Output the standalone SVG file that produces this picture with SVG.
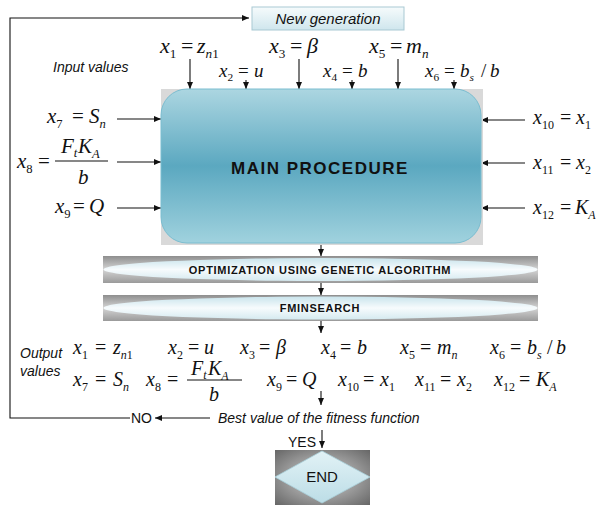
<svg xmlns="http://www.w3.org/2000/svg" width="602" height="505" viewBox="0 0 602 505">
<defs>
<style>
.m{font-family:"Liberation Serif","Times New Roman",serif;font-style:italic;font-size:20px;fill:#111}
.L{font-size:22px}
.S{font-size:19px}
.s{font-size:60%}
.d{font-size:60%;font-style:normal}
.o{font-style:normal}
.lab{font-family:"Liberation Sans",Arial,sans-serif;font-style:italic;font-size:14px;fill:#111}
.plain{font-family:"Liberation Sans",Arial,sans-serif;font-size:14px;fill:#111}
.bold{font-family:"Liberation Sans",Arial,sans-serif;font-weight:bold;fill:#111;text-anchor:middle}
.ln{stroke:#111;stroke-width:1.1;fill:none}
.ar{stroke:#111;stroke-width:1.1;fill:none;marker-end:url(#ah)}
</style>
<marker id="ah" markerWidth="7" markerHeight="6" refX="7" refY="3" orient="auto" markerUnits="userSpaceOnUse">
<path d="M0,0 L7,3 L0,6 z" fill="#111"/>
</marker>
<linearGradient id="gMain" x1="0" y1="0" x2="0" y2="1">
<stop offset="0" stop-color="#acd6e1"/>
<stop offset="0.5" stop-color="#5ba8c0"/>
<stop offset="1" stop-color="#a0d2de"/>
</linearGradient>
<linearGradient id="gNew" x1="0" y1="0" x2="0" y2="1">
<stop offset="0" stop-color="#f6fbfc"/>
<stop offset="1" stop-color="#cfe6ed"/>
</linearGradient>
<linearGradient id="gBar" x1="0" y1="0" x2="0" y2="1">
<stop offset="0" stop-color="#8e8e8e"/>
<stop offset="0.5" stop-color="#d4d4d4"/>
<stop offset="1" stop-color="#9a9a9a"/>
</linearGradient>
<linearGradient id="gEll" x1="0" y1="0" x2="0" y2="1">
<stop offset="0" stop-color="#c9e4ec"/>
<stop offset="0.5" stop-color="#f7fbfd"/>
<stop offset="1" stop-color="#d5eaf0"/>
</linearGradient>
<radialGradient id="gEnd" cx="0.5" cy="0.5" r="0.7">
<stop offset="0" stop-color="#d6d6d6"/>
<stop offset="1" stop-color="#676767"/>
</radialGradient>
<linearGradient id="gDia" x1="0" y1="0" x2="0" y2="1">
<stop offset="0" stop-color="#e2f2f6"/>
<stop offset="1" stop-color="#bcdde6"/>
</linearGradient>
</defs>
<rect width="602" height="505" fill="#ffffff"/>

<g id="connectors">
<polyline class="ar" points="130,418 10,418 10,18 249,18"/>
<line class="ar" x1="190" y1="59" x2="190" y2="89"/>
<line class="ar" x1="246" y1="80" x2="246" y2="89"/>
<line class="ar" x1="299" y1="59" x2="299" y2="89"/>
<line class="ar" x1="352" y1="80" x2="352" y2="89"/>
<line class="ar" x1="398" y1="59" x2="398" y2="89"/>
<line class="ar" x1="454" y1="80" x2="454" y2="89"/>
<line class="ar" x1="117" y1="119" x2="161" y2="119"/>
<line class="ar" x1="117" y1="162" x2="161" y2="162"/>
<line class="ar" x1="117" y1="208" x2="161" y2="208"/>
<line class="ar" x1="525" y1="120" x2="481" y2="120"/>
<line class="ar" x1="525" y1="163" x2="481" y2="163"/>
<line class="ar" x1="525" y1="208" x2="481" y2="208"/>
<line class="ar" x1="321" y1="244" x2="321" y2="256"/>
<line class="ar" x1="321" y1="283" x2="321" y2="295"/>
<line class="ar" x1="321" y1="321" x2="321" y2="333"/>
<line class="ar" x1="321" y1="391" x2="321" y2="405"/>
<line class="ar" x1="210" y1="418" x2="155" y2="418"/>
<line class="ar" x1="322" y1="430" x2="322" y2="448"/>
</g>

<g id="node-new-generation">
<rect x="252" y="7" width="152" height="23" fill="url(#gNew)" stroke="#a9c9d3" stroke-width="1"/>
<text class="lab" x="328" y="24" text-anchor="middle" style="font-size:15px">New generation</text>
</g>

<g id="node-input-values">
<text class="lab" x="53" y="72">Input values</text>
<text class="m L" x="160" y="53">x<tspan class="d" dy="5">1</tspan><tspan class="o" x="181" dy="-5">=</tspan><tspan x="197">z</tspan><tspan class="s" dy="5">n</tspan><tspan class="d">1</tspan></text>
<text class="m S" x="219" y="77">x<tspan class="d" dy="4">2</tspan><tspan class="o" x="238" dy="-4">=</tspan><tspan x="254">u</tspan></text>
<text class="m L" x="269" y="53">x<tspan class="d" dy="5">3</tspan><tspan class="o" x="290" dy="-5">=</tspan><tspan x="307">β</tspan></text>
<text class="m S" x="323" y="77">x<tspan class="d" dy="4">4</tspan><tspan class="o" x="342" dy="-4">=</tspan><tspan x="358">b</tspan></text>
<text class="m L" x="369" y="53">x<tspan class="d" dy="5">5</tspan><tspan class="o" x="390" dy="-5">=</tspan><tspan x="406">m</tspan><tspan class="s" dy="5">n</tspan></text>
<text class="m S" x="425" y="77">x<tspan class="d" dy="4">6</tspan><tspan class="o" x="444" dy="-4">=</tspan><tspan x="460">b</tspan><tspan class="s" dy="4">s</tspan><tspan class="o" x="481" dy="-4">/</tspan><tspan x="490">b</tspan></text>
<text class="m" x="47" y="123" style="font-size:21px">x<tspan class="d" dy="5">7</tspan><tspan class="o" x="72" dy="-5">=</tspan><tspan x="89">S</tspan><tspan class="s" dy="5">n</tspan></text>
<text class="m" x="17" y="168" style="font-size:21px">x<tspan class="d" dy="5">8</tspan><tspan class="o" x="38" dy="-5">=</tspan></text>
<line class="ln" x1="55" y1="161" x2="108" y2="161"/>
<text class="m" x="61" y="153" style="font-size:21px">F<tspan class="s" dy="4">t</tspan><tspan x="78" dy="-4">K</tspan><tspan class="s" dy="5">A</tspan></text>
<text class="m" x="78" y="184" style="font-size:21px">b</text>
<text class="m" x="55" y="213" style="font-size:21px">x<tspan class="d" dy="5">9</tspan><tspan class="o" x="73" dy="-5">=</tspan><tspan x="89">Q</tspan></text>
<text class="m" x="533" y="124">x<tspan class="d" dy="5">10</tspan><tspan class="o" x="560" dy="-5">=</tspan><tspan x="576">x</tspan><tspan class="d" dy="5">1</tspan></text>
<text class="m" x="533" y="169">x<tspan class="d" dy="5">11</tspan><tspan class="o" x="560" dy="-5">=</tspan><tspan x="576">x</tspan><tspan class="d" dy="5">2</tspan></text>
<text class="m" x="533" y="214">x<tspan class="d" dy="5">12</tspan><tspan class="o" x="560" dy="-5">=</tspan><tspan x="575">K</tspan><tspan class="s" dy="5">A</tspan></text>
</g>

<g id="node-main">
<rect x="161" y="89" width="322" height="156" fill="#d9d9d9"/>
<rect x="161" y="89" width="320" height="154" rx="26" ry="26" fill="url(#gMain)" stroke="#7bbdd0" stroke-width="1"/>
<text class="bold" x="320" y="174" style="font-size:17px;letter-spacing:1.5px">MAIN PROCEDURE</text>
</g>

<g id="node-ga">
<rect x="103" y="256" width="435" height="27" fill="url(#gBar)"/>
<ellipse cx="320.5" cy="269.5" rx="217" ry="11.5" fill="url(#gEll)"/>
<text class="bold" x="320" y="274" style="font-size:11px;letter-spacing:0.7px">OPTIMIZATION USING GENETIC ALGORITHM</text>
</g>

<g id="node-fminsearch">
<rect x="103" y="295" width="435" height="26" fill="url(#gBar)"/>
<ellipse cx="320.5" cy="308" rx="217" ry="11.5" fill="url(#gEll)"/>
<text class="bold" x="320" y="312" style="font-size:11px;letter-spacing:0.7px">FMINSEARCH</text>
</g>

<g id="node-output-values">
<text class="lab" x="20" y="358">Output</text>
<text class="lab" x="20" y="376">values</text>
<text class="m" x="73" y="354">x<tspan class="d" dy="5">1</tspan><tspan class="o" x="95" dy="-5">=</tspan><tspan x="113">z</tspan><tspan class="s" dy="5">n</tspan><tspan class="d">1</tspan></text>
<text class="m" x="168" y="354">x<tspan class="d" dy="5">2</tspan><tspan class="o" x="188" dy="-5">=</tspan><tspan x="204">u</tspan></text>
<text class="m" x="240" y="354">x<tspan class="d" dy="5">3</tspan><tspan class="o" x="259" dy="-5">=</tspan><tspan x="276">β</tspan></text>
<text class="m" x="321" y="354">x<tspan class="d" dy="5">4</tspan><tspan class="o" x="340" dy="-5">=</tspan><tspan x="357">b</tspan></text>
<text class="m" x="400" y="354">x<tspan class="d" dy="5">5</tspan><tspan class="o" x="420" dy="-5">=</tspan><tspan x="437">m</tspan><tspan class="s" dy="5">n</tspan></text>
<text class="m" x="490" y="354">x<tspan class="d" dy="5">6</tspan><tspan class="o" x="510" dy="-5">=</tspan><tspan x="527">b</tspan><tspan class="s" dy="5">s</tspan><tspan class="o" x="547" dy="-5">/</tspan><tspan x="556">b</tspan></text>
<text class="m" x="73" y="386">x<tspan class="d" dy="5">7</tspan><tspan class="o" x="95" dy="-5">=</tspan><tspan x="113">S</tspan><tspan class="s" dy="5">n</tspan></text>
<text class="m" x="146" y="386">x<tspan class="d" dy="5">8</tspan><tspan class="o" x="167" dy="-5">=</tspan></text>
<line class="ln" x1="187" y1="380" x2="242" y2="380"/>
<text class="m" x="191" y="375">F<tspan class="s" dy="4">t</tspan><tspan x="208" dy="-4">K</tspan><tspan class="s" dy="5">A</tspan></text>
<text class="m" x="209" y="401">b</text>
<text class="m" x="267" y="386">x<tspan class="d" dy="5">9</tspan><tspan class="o" x="286" dy="-5">=</tspan><tspan x="302">Q</tspan></text>
<text class="m" x="338" y="386">x<tspan class="d" dy="5">10</tspan><tspan class="o" x="363" dy="-5">=</tspan><tspan x="380">x</tspan><tspan class="d" dy="5">1</tspan></text>
<text class="m" x="415" y="386">x<tspan class="d" dy="5">11</tspan><tspan class="o" x="440" dy="-5">=</tspan><tspan x="457">x</tspan><tspan class="d" dy="5">2</tspan></text>
<text class="m" x="494" y="386">x<tspan class="d" dy="5">12</tspan><tspan class="o" x="519" dy="-5">=</tspan><tspan x="536">K</tspan><tspan class="s" dy="5">A</tspan></text>
</g>

<g id="node-fitness">
<text class="lab" x="218" y="423">Best value of the fitness function</text>
<text class="plain" x="131" y="423">NO</text>
<text class="plain" x="288" y="447">YES</text>
</g>

<g id="node-end">
<rect x="275" y="450" width="95" height="55" fill="url(#gEnd)"/>
<polygon points="322,451 370,477 322,503 275,477" fill="url(#gDia)" stroke="#a9d0db" stroke-width="0.8"/>
<text class="plain" x="322" y="482" text-anchor="middle" style="font-size:15px">END</text>
</g>
</svg>
